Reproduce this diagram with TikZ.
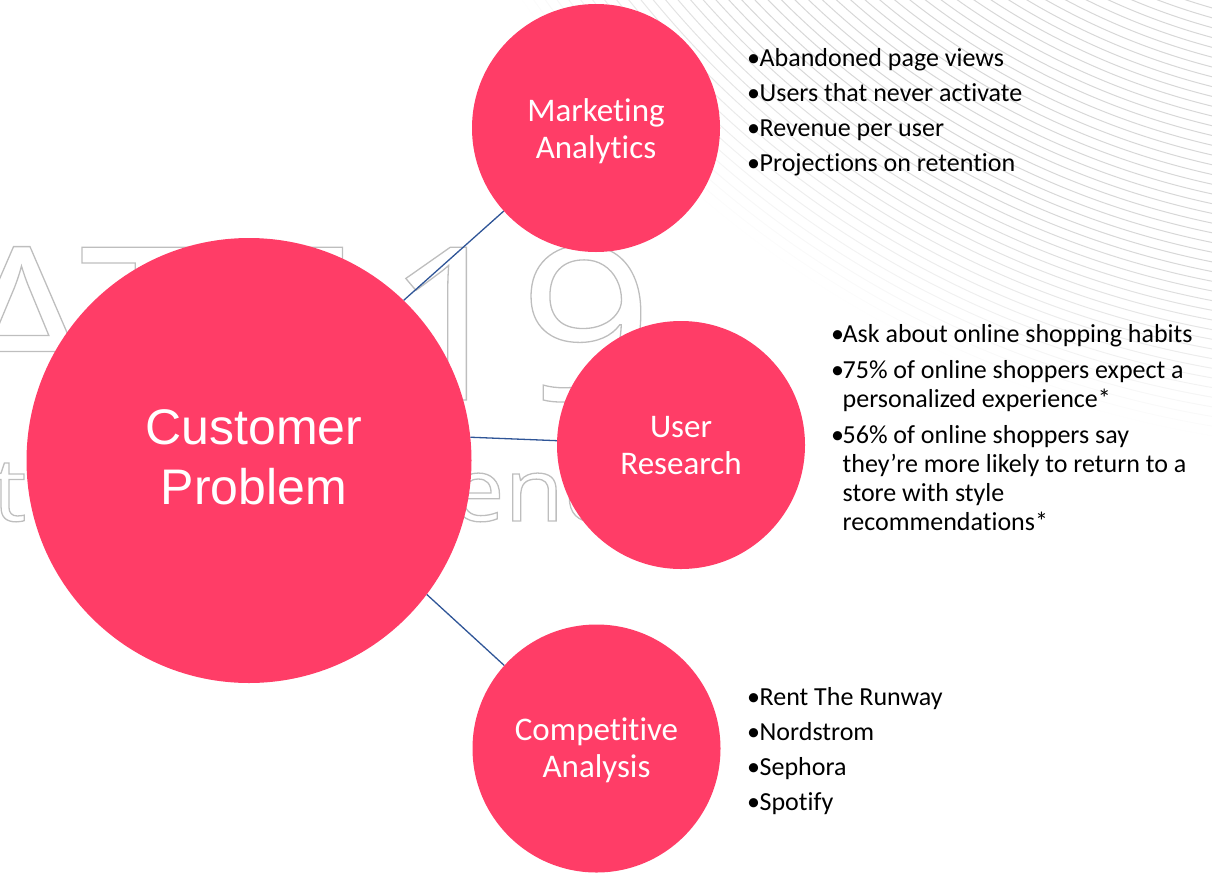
\documentclass[tikz,border=0pt]{standalone}
\usepackage{fontspec}
\setmainfont{Carlito}[Ligatures=CommonOff]
\newfontfamily\arialf{Liberation Sans}
\newfontfamily\wmf{Open Sans}[FakeStretch=1.1]
\definecolor{pinkc}{RGB}{255,61,103}
\definecolor{connc}{RGB}{47,85,151}
\definecolor{wmgray}{RGB}{190,190,190}
\definecolor{arcgray}{RGB}{215,215,215}
\newcommand{\lowr}[2]{\raisebox{-#1}[\height][\depth]{#2}}
\newcommand{\outl}[1]{\special{pdf:literal direct 1 Tr 1.3 w}#1\special{pdf:literal direct 0 Tr}}
\begin{document}
\begin{tikzpicture}[x=1pt,y=-1pt,
  circ/.style={circle, fill=pinkc, inner sep=0pt, text=white},
  smallc/.style={circ, minimum size=248pt, font=\fontsize{33}{37}\selectfont},
  conn/.style={draw=connc, line width=1.3pt},
  blist/.style={inner sep=0pt, anchor=base west, font=\fontsize{26}{29}\selectfont},
  wmbig/.style={inner sep=0pt, text=wmgray, font=\wmf\fontsize{214}{214}\selectfont},
  wmsmall/.style={inner sep=0pt, text=wmgray, font=\wmf\fontsize{88}{88}\selectfont}]
\useasboundingbox (0,0) rectangle (1212,873);
\begin{scope}
  \clip (0,0) rectangle (1212,873);
  % background arcs
  \coordinate (arcc) at (1386,-604);
  \foreach \r in {560,569.5,...,1070}{%
    \pgfmathsetmacro\op{min(1,max(0,(1060-\r)/170))}
    \draw[arcgray, line width=1pt, draw opacity=\op] (arcc) circle[radius=\r];
  }
  % watermark
  \node[wmbig, anchor=base east] (wma) at (345,400) {\outl{ATT}};
  \node[wmbig, anchor=base west] (wmb) at (384,400) {\outl{19}};
  \node[wmsmall, anchor=base west] (wmc) at (-8,521) {\outl{t}};
  \node[wmsmall, anchor=base west] (wmd) at (450,521) {\outl{enc}};
\end{scope}

\coordinate (cpc) at (249,460.5);
\coordinate (mac) at (596,128);
\coordinate (urc) at (681,445);
\coordinate (cac) at (596.5,748.5);

\node[circ, minimum size=445pt, font=\arialf\fontsize{50}{60}\selectfont] (cp) at (cpc)
  {\lowr{2pt}{\begin{tabular}{@{\hspace{10pt}}c@{}}Customer\\Problem\end{tabular}}};
\node[smallc] (ma) at (mac)
  {\lowr{5pt}{\begin{tabular}{@{}c@{}}Marketing\\Analytics\end{tabular}}};
\node[smallc] (ur) at (urc)
  {\lowr{4pt}{\begin{tabular}{@{}c@{}}User\\Research\end{tabular}}};
\node[smallc] (ca) at (cac)
  {\lowr{3pt}{\begin{tabular}{@{}c@{}}Competitive\\Analysis\end{tabular}}};

\draw[conn] (cp.46) -- (ma.222);
\draw[conn] (cp.6) -- (ur.178);
\draw[conn] (cp.-37) -- (ca.138);

% bullet lists
\node[blist] (malist) at (747,66) {\begin{tabular}[t]{@{}l@{\hspace{-0.5pt}}l@{}}
•&Abandoned page views\\[6pt]
•&Users that never activate\\[6pt]
•&Revenue per user\\[6pt]
•&Projections on retention
\end{tabular}};

\node[blist] (urlist) at (831,342) {\begin{tabular}[t]{@{}l@{\hspace{-1.5pt}}l@{}}
•&Ask about online shopping habits\\[7pt]
•&75\% of online shoppers expect a\\
&personalized experience*\\[7pt]
•&56\% of online shoppers say\\
&they’re more likely to return to a\\
&store with style\\
&recommendations*
\end{tabular}};

\node[blist] (calist) at (747,705) {\begin{tabular}[t]{@{}l@{\hspace{-0.5pt}}l@{}}
•&Rent The Runway\\[6pt]
•&Nordstrom\\[6pt]
•&Sephora\\[6pt]
•&Spotify
\end{tabular}};
\end{tikzpicture}
\end{document}
